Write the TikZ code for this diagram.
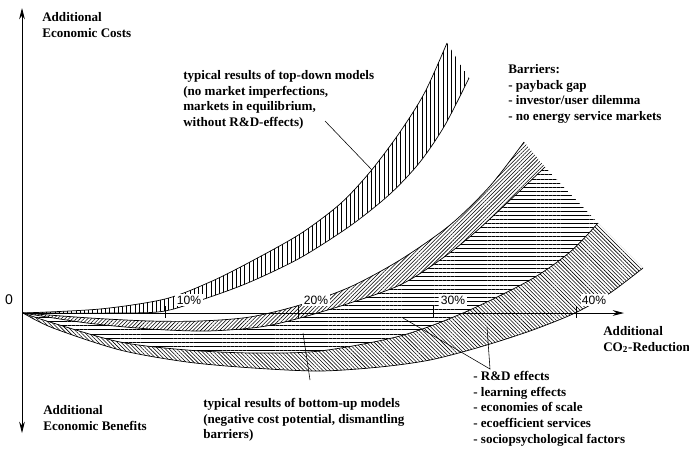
\documentclass[tikz,border=0pt]{standalone}
\usepackage{fontspec}
\setmainfont{Liberation Serif}
\setsansfont{Liberation Sans}
\usepackage{tikz}
\usetikzlibrary{patterns.meta,arrows.meta}

\tikzset{
  lbl/.style={font=\fontsize{9.3}{11.2}\selectfont\bfseries, align=left, inner sep=0pt, anchor=north west},
  pct/.style={font=\sffamily\fontsize{8.6}{9}\selectfont, fill=white, inner sep=1pt},
  curve/.style={line width=0.5pt},
  leader/.style={line width=0.4pt},
  axis/.style={line width=0.6pt, -{Stealth[length=8pt,width=4pt]}},
  tdfill/.style={pattern={Lines[angle=90,distance=3pt,line width=0.45pt]}},
  bandA/.style={pattern={Lines[angle=45,distance=1.9pt,line width=0.4pt]}},
  bandB/.style={pattern={Lines[angle=0,distance=2.9pt,line width=0.45pt]}},
  bandC/.style={pattern={Lines[angle=-45,distance=1.9pt,line width=0.4pt]}},
}

\begin{document}
\begin{tikzpicture}[x=0.025cm, y=-0.025cm]
  \useasboundingbox (0,0) rectangle (689,448);
  % Bands
  \path[tdfill] plot[smooth] coordinates {(23,313) (100,309) (165,299) (210,282) (250,262) (300,234) (340,204) (370,172) (400,132) (425,92) (447,43)}
    -- plot[smooth] coordinates {(469,78) (445,125) (420,162) (390,194) (350,226) (300,258) (250,282) (210,297) (165,311) (120,313) (23,313)} -- cycle;
  \path[bandA] plot[smooth] coordinates {(23,313) (90,318) (150,321) (200,321) (250,317) (300,305) (350,287) (400,260) (450,225) (490,186) (524,142)}
    -- plot[smooth] coordinates {(545,167) (480,228) (440,260) (400,285) (350,303) (300,318) (260,327) (207,331) (150,329) (87,323) (23,313)} -- cycle;
  \path[bandB] plot[smooth] coordinates {(23,313) (87,323) (150,329) (207,331) (260,327) (300,318) (350,303) (400,285) (440,260) (480,228) (545,167)}
    -- plot[smooth] coordinates {(598,223) (570,252) (530,280) (463,313) (400,336) (320,351) (253,353) (187,350) (120,342) (53,323) (23,313)} -- cycle;
  \path[bandC] plot[smooth] coordinates {(23,313) (53,323) (120,342) (187,350) (253,353) (320,351) (400,336) (463,313) (530,280) (570,252) (598,223)}
    -- plot[smooth] coordinates {(643,268) (610,293) (575,313) (530,331) (480,347) (430,360) (380,367) (320,371) (253,368) (187,362) (120,350) (53,328) (23,313)} -- cycle;
  % Curves
  \draw[curve] plot[smooth] coordinates {(23,313) (100,309) (165,299) (210,282) (250,262) (300,234) (340,204) (370,172) (400,132) (425,92) (447,43)};
  \draw[curve] plot[smooth] coordinates {(23,313) (120,313) (165,311) (210,297) (250,282) (300,258) (350,226) (390,194) (420,162) (445,125) (469,78)};
  \draw[curve] plot[smooth] coordinates {(23,313) (90,318) (150,321) (200,321) (250,317) (300,305) (350,287) (400,260) (450,225) (490,186) (524,142)};
  \draw[curve] plot[smooth] coordinates {(23,313) (87,323) (150,329) (207,331) (260,327) (300,318) (350,303) (400,285) (440,260) (480,228) (545,167)};
  \draw[curve] plot[smooth] coordinates {(23,313) (53,323) (120,342) (187,350) (253,353) (320,351) (400,336) (463,313) (530,280) (570,252) (598,223)};
  \draw[curve] plot[smooth] coordinates {(23,313) (53,328) (120,350) (187,362) (253,368) (320,371) (380,367) (430,360) (480,347) (530,331) (575,313) (610,293) (643,268)};
  % Axes
  \coordinate (o) at (22,313);
  \coordinate (ytop) at (22,8);
  \coordinate (ybot) at (22,433);
  \coordinate (xend) at (624,313);
  \draw[axis] (o) -- (ytop);
  \draw[axis] (o) -- (ybot);
  \draw[axis] (o) -- (xend);
  \foreach \x/\p/\lx in {165/10/189, 298/20/316, 433/30/453, 576/40/594} {
    \draw[line width=0.5pt] (\x,306) -- (\x,318);
    \node[pct] (p\p) at (\lx,300) {\p\%};
  }
  \node[font=\sffamily\fontsize{10}{11}\selectfont] (zero) at (9,300) {0};
  % Labels
  \node[lbl] (costs) at (42,12) {Additional\\Economic Costs};
  \node[lbl] (benefits) at (43,405) {Additional\\Economic Benefits};
  \node[lbl] (co2) at (603,326) {Additional\\CO\textsubscript{2}-Reduction};
  \node[lbl] (topdown) at (183,70) {typical results of top-down models\\(no market imperfections,\\markets in equilibrium,\\without R\&D-effects)};
  \node[lbl] (barriers) at (508,64) {Barriers:\\- payback gap\\- investor/user dilemma\\- no energy service markets};
  \node[lbl] (bottomup) at (203,398) {typical results of bottom-up models\\(negative cost potential, dismantling\\barriers)};
  \node[lbl] (effects) at (473,371) {- R\&D effects\\- learning effects\\- economies of scale\\- ecoefficient services\\- sociopsychological factors};
  % Leaders
  \coordinate (td-from) at (325,121);
  \coordinate (td-to) at (372,170);
  \coordinate (bu-from) at (310,380);
  \coordinate (bu-to) at (303,333);
  \coordinate (fx-apex) at (490,369);
  \coordinate (fx-b) at (403,318);
  \coordinate (fx-c) at (487,327);
  \draw[leader] (td-from) -- (td-to);
  \draw[leader] (bu-from) -- (bu-to);
  \draw[leader] (fx-b) -- (fx-apex) -- (fx-c);
\end{tikzpicture}
\end{document}
